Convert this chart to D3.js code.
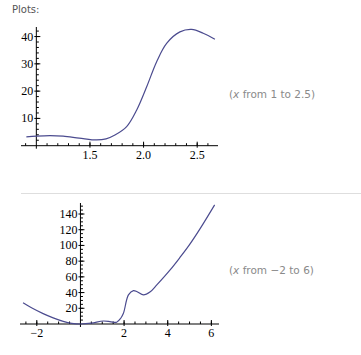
<!DOCTYPE html>
<html>
<head>
<meta charset="utf-8">
<script src="https://cdn.jsdelivr.net/npm/d3@7"></script>
<style>
  body { margin: 0; background: #fff; }
</style>
</head>
<body>
<script>
// values
var topX = [0.907, 1.0, 1.128, 1.25, 1.4, 1.563, 1.65, 1.733, 1.842, 1.936, 2.029, 2.122, 2.215, 2.339, 2.448, 2.556, 2.665];
var topY = [3.2, 3.5, 3.7, 3.5, 2.8, 2.1, 2.5, 3.9, 7.0, 13.1, 21.6, 30.8, 37.5, 41.7, 42.6, 41.2, 39.0];
var bottomX = [-2.63, -2.2, -1.71, -1.25, -0.79, -0.4, 0, 0.5, 1.05, 1.4, 1.66, 1.84, 1.97, 2.2, 2.43, 2.6, 2.89, 3.2, 3.5, 4.11, 4.57, 5.0, 5.5, 6.15];
var bottomY = [27, 20, 13.2, 7.8, 3.4, 0.9, 0, 1.0, 3.8, 2.8, 2.3, 7, 13.6, 37, 42.5, 41, 37, 41, 49.7, 68.8, 85, 101, 122, 151.6];

var topXTicks = [1.5, 2.0, 2.5];
var topYTicks = [10, 20, 30, 40];
var bottomXTicks = [-2, 2, 4, 6];
var bottomYTicks = [20, 40, 60, 80, 100, 120, 140];

var W = 361, H = 355;
var lineColor = "#4b4b8f";
var serif = "'Liberation Serif', 'DejaVu Serif', serif";
var sans = "'DejaVu Sans', sans-serif";

var svg = d3.select("body").append("svg")
    .attr("width", W)
    .attr("height", H);

svg.append("text")
    .attr("x", 12)
    .attr("y", 13)
    .style("font-family", sans)
    .style("font-size", "10px")
    .style("fill", "#555")
    .text("Plots:");

// separator between the two plots
svg.append("line")
    .attr("x1", 21).attr("x2", W)
    .attr("y1", 193.5).attr("y2", 193.5)
    .style("stroke", "#dedede");

function drawPlot(opt) {
    var x = d3.scaleLinear().domain(opt.xDomain).range(opt.xRange);
    var y = d3.scaleLinear().domain(opt.yDomain).range(opt.yRange);
    var g = svg.append("g");

    var x0 = x(opt.originX), y0 = y(0);

    // axes
    g.append("line")
        .attr("x1", opt.xRange[0]).attr("x2", opt.xRange[1])
        .attr("y1", y0).attr("y2", y0)
        .style("stroke", "#000");
    g.append("line")
        .attr("x1", x0).attr("x2", x0)
        .attr("y1", opt.yRange[1]).attr("y2", y0 + 3)
        .style("stroke", "#000");

    // minor ticks
    opt.xMinor.forEach(function (v) {
        if (Math.abs(v - opt.originX) < 1e-9) return;
        g.append("line")
            .attr("x1", x(v)).attr("x2", x(v))
            .attr("y1", y0).attr("y2", y0 - 2.5)
            .style("stroke", "#000");
    });
    opt.yMinor.forEach(function (v) {
        if (v === 0) return;
        g.append("line")
            .attr("x1", x0).attr("x2", x0 + 2.5)
            .attr("y1", y(v)).attr("y2", y(v))
            .style("stroke", "#000");
    });

    // major ticks + labels
    opt.xTicks.forEach(function (v) {
        g.append("line")
            .attr("x1", x(v)).attr("x2", x(v))
            .attr("y1", y0 + 2).attr("y2", y0 - 4)
            .style("stroke", "#000");
        g.append("text")
            .attr("x", x(v))
            .attr("y", y0 + 13)
            .attr("text-anchor", "middle")
            .style("font-family", serif)
            .style("font-size", "12px")
            .style("fill", "#000")
            .text(opt.xFormat(v));
    });
    opt.yTicks.forEach(function (v) {
        g.append("line")
            .attr("x1", x0 - 2).attr("x2", x0 + 4)
            .attr("y1", y(v)).attr("y2", y(v))
            .style("stroke", "#000");
        g.append("text")
            .attr("x", x0 - 3)
            .attr("y", y(v) + 4)
            .attr("text-anchor", "end")
            .style("font-family", serif)
            .style("font-size", "12px")
            .style("fill", "#000")
            .text(v);
    });

    // the curve
    var pts = opt.xs.map(function (d, i) { return [d, opt.ys[i]]; });
    g.append("path")
        .datum(pts)
        .attr("d", d3.line()
            .x(function (d) { return x(d[0]); })
            .y(function (d) { return y(d[1]); })
            .curve(d3.curveCatmullRom.alpha(0.5)))
        .style("fill", "none")
        .style("stroke", lineColor)
        .style("stroke-width", 1.2);

    // range note on the right
    var t = svg.append("text")
        .attr("x", 229)
        .attr("y", opt.noteY)
        .style("font-family", sans)
        .style("font-size", "10.5px")
        .style("fill", "#8a8a8a");
    t.append("tspan").text("(");
    t.append("tspan").style("font-style", "italic").text("x");
    t.append("tspan").text(opt.note);
}

drawPlot({
    xDomain: [0.857, 2.694], xRange: [21, 218],
    yDomain: [0, 43.5], yRange: [145.7, 27],
    originX: 1,
    xs: topX, ys: topY,
    xTicks: topXTicks, yTicks: topYTicks,
    xMinor: d3.range(9, 27).map(function (d) { return d / 10; }),
    yMinor: d3.range(0, 44, 2),
    xFormat: d3.format(".1f"),
    note: " from 1 to 2.5)", noteY: 98
});

drawPlot({
    xDomain: [-2.77, 6.35], xRange: [20, 219],
    yDomain: [0, 154], yRange: [324, 203],
    originX: 0,
    xs: bottomX, ys: bottomY,
    xTicks: bottomXTicks, yTicks: bottomYTicks,
    xMinor: d3.range(-5, 13).map(function (d) { return d / 2; }),
    yMinor: d3.range(0, 155, 5),
    xFormat: function (v) { return v < 0 ? "\u2212" + Math.abs(v) : String(v); },
    note: " from \u22122 to 6)", noteY: 274
});
</script>
</body>
</html>
